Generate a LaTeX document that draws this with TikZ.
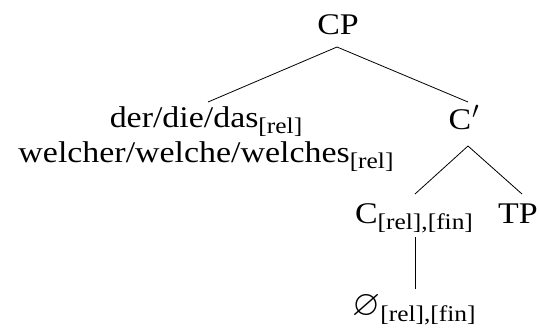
\documentclass[tikz,border=0pt]{standalone}
\usepackage{amssymb}
\usepackage{graphicx}
\usepackage{fontspec}
\setmainfont[FakeStretch=1.13]{Liberation Serif}
\newcommand\fsub[1]{\raisebox{-6.5pt}{\fontsize{22.5pt}{22.5pt}\selectfont #1}}
\begin{document}
\begin{tikzpicture}[x=1pt,y=1pt,
  lbl/.style={anchor=base,inner sep=0pt,font=\fontsize{30pt}{35pt}\selectfont},
  edge/.style={line width=0.8pt}]
\useasboundingbox (0,0) rectangle (540,333);
\node[lbl] (CP) at (338,299) {CP};
\node[lbl,align=center] (der) at (206,171) {der/die/das\fsub{[rel]}\\welcher/welche/welches\fsub{[rel]}};
\node[lbl] (Cbar) at (464,204) {C\kern1pt\scalebox{1.15}{$'$}};
\node[lbl] (C) at (414,110) {C\fsub{[rel],[fin]}};
\node[lbl] (TP) at (518,110) {TP};
\node[lbl] (null) at (414,18) {\scalebox{1.2}{$\varnothing$}\fsub{[rel],[fin]}};
\draw[edge] ([xshift=-1pt,yshift=-13pt]CP.base) -- ([xshift=2pt,yshift=60pt]der.base);
\draw[edge] ([xshift=-1pt,yshift=-13pt]CP.base) -- ([xshift=4pt,yshift=27pt]Cbar.base);
\draw[edge] ([xshift=4pt,yshift=-17pt]Cbar.base) -- ([xshift=1pt,yshift=29pt]C.base);
\draw[edge] ([xshift=4pt,yshift=-17pt]Cbar.base) -- ([xshift=4pt,yshift=29pt]TP.base);
\draw[edge] ([xshift=1pt,yshift=-14pt]C.base) -- ([xshift=1pt,yshift=26pt]null.base);
\end{tikzpicture}
\end{document}
